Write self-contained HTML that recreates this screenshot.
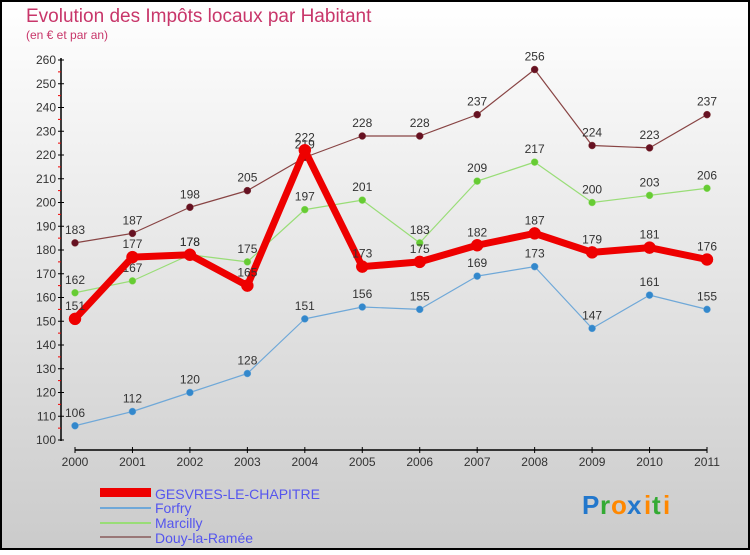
<!DOCTYPE html>
<html><head><meta charset="utf-8"><style>
html,body{margin:0;padding:0;}
body{width:750px;height:550px;overflow:hidden;font-family:"Liberation Sans",sans-serif;}
svg text{font-family:"Liberation Sans",sans-serif;}
</style></head><body>
<svg id="chart" width="750" height="550" viewBox="0 0 750 550" xmlns="http://www.w3.org/2000/svg">
<defs><linearGradient id="bg" x1="0" y1="0" x2="0" y2="1"><stop offset="0" stop-color="#ffffff"/><stop offset="1" stop-color="#cbcbcb"/></linearGradient></defs>
<rect x="1" y="1" width="748" height="548" fill="url(#bg)" stroke="#000" stroke-width="2"/>
<text x="26" y="22" font-size="19" fill="#c8366a">Evolution des Impôts locaux par Habitant</text>
<text x="26" y="39" font-size="12" fill="#c8366a">(en € et par an)</text>
<g id="axes"></g>
<g id="series"></g>
<g>
<rect x="100" y="488" width="51" height="9" fill="#ee0000"/>
<text x="155" y="499" font-size="14" fill="#5555ee">GESVRES-LE-CHAPITRE</text>
<rect x="100" y="507" width="51" height="2" fill="#6fa8d8"/>
<text x="155" y="513" font-size="14" fill="#5555ee">Forfry</text>
<rect x="100" y="522" width="51" height="2" fill="#99dd77"/>
<text x="155" y="528" font-size="14" fill="#5555ee">Marcilly</text>
<rect x="100" y="536" width="51" height="2" fill="#997777"/>
<text x="155" y="543" font-size="14" fill="#5555ee">Douy-la-Ramée</text>
</g>
<g font-size="26" font-weight="bold">
<text x="582" y="514" fill="#2277cc">P</text><text x="600" y="514" fill="#33aa33">r</text><text x="611" y="514" fill="#ff8800">o</text><text x="627" y="514" fill="#2277cc">x</text><text x="644" y="514" fill="#ff8800">i</text><text x="652" y="514" fill="#33aa33">t</text><text x="663" y="514" fill="#ff8800">i</text>
</g>
</svg>
<script>
const years = [2000,2001,2002,2003,2004,2005,2006,2007,2008,2009,2010,2011];
const yTicks = [100,110,120,130,140,150,160,170,180,190,200,210,220,230,240,250,260];
const gesvres = [151,177,178,165,222,173,175,182,187,179,181,176];
const forfry = [106,112,120,128,151,156,155,169,173,147,161,155];
const marcilly = [162,167,178,175,197,201,183,209,217,200,203,206];
const douy = [183,187,198,205,219,228,228,237,256,224,223,237];

const NS = "http://www.w3.org/2000/svg";
function xs(i){ return 75 + i * (707 - 75) / (years.length - 1); }
function ys(v){ return 440 - (v - 100) * 380 / 160; }
function mk(tag, attrs, parent){ const e = document.createElementNS(NS, tag); for (const k in attrs) e.setAttribute(k, attrs[k]); parent.appendChild(e); return e; }

const axes = document.getElementById('axes');
const ya = mk('line', {x1:61, y1:58, x2:61, y2:441, stroke:'#000', 'stroke-width':1.5}, axes);


yTicks.forEach(v => {
  const y = ys(v);
  const t = mk('line', {x1:58, y1:y, x2:64, y2:y, stroke:'#000'}, axes);
  
  
  if (v < 260) { const m = mk('line', {x1:58, y1:y - 11.875, x2:61, y2:y - 11.875, stroke:'#e00'}, axes);
    
     }
  const l = mk('text', {x:56, y:y + 4, 'font-size':12, fill:'#333', 'text-anchor':'end'}, axes);
  l.textContent = v;
  
  
});
const xa = mk('line', {x1:75, y1:450, x2:707, y2:450, stroke:'#000', 'stroke-width':1.5}, axes);


years.forEach((yr, i) => {
  const x = xs(i);
  const t = mk('line', {x1:x, y1:447, x2:x, y2:453, stroke:'#000'}, axes);
  
  
  const l = mk('text', {x:x, y:466, 'font-size':12, fill:'#333', 'text-anchor':'middle'}, axes);
  l.textContent = yr;
  
  
});

const sg = document.getElementById('series');
function draw(vals, name, color, dot, w, r){
  const g = mk('g', {}, sg);
  
  
  const pts = vals.map((v, i) => xs(i) + ',' + ys(v)).join(' ');
  const pl = mk('polyline', {points:pts, fill:'none', stroke:color, 'stroke-width':w, 'stroke-linejoin':'round'}, g);
  
  
  vals.forEach((v, i) => {
    const c = mk('circle', {cx:xs(i), cy:ys(v), r:r, fill:dot, stroke:color, 'stroke-width':0.5}, g);
    
    
    const l = mk('text', {x:xs(i), y:ys(v) - 9, 'font-size':12, fill:'#333', 'text-anchor':'middle'}, g);
    l.textContent = v;
    
    
  });
}
draw(douy, 'douy', '#884444', '#661122', 1.2, 3.5);
draw(marcilly, 'marcilly', '#99dd77', '#66cc33', 1.2, 3.5);
draw(forfry, 'forfry', '#6fa8d8', '#3388cc', 1.2, 3.5);
draw(gesvres, 'gesvres', '#ee0000', '#ee0000', 7, 6);
</script>
</body></html>
